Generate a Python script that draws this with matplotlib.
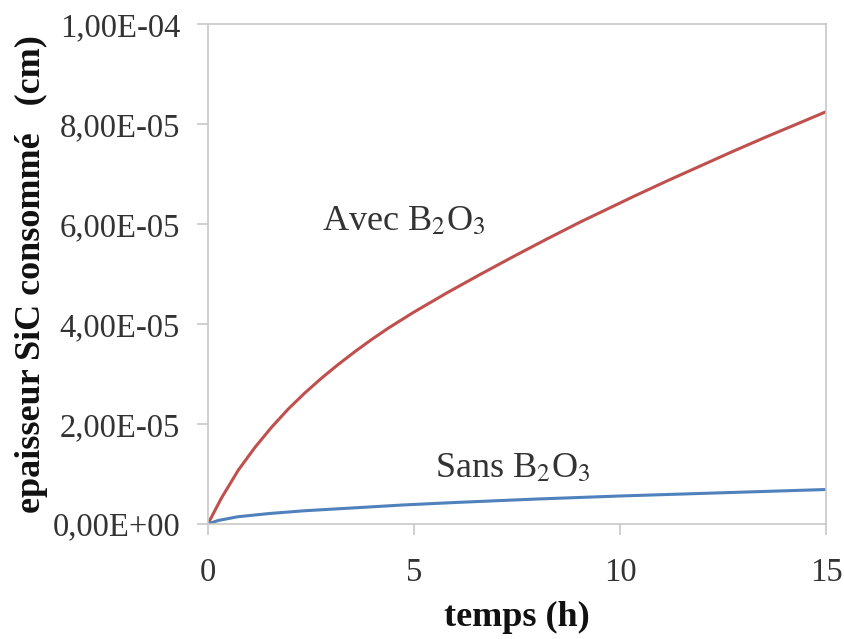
import matplotlib
matplotlib.use("Agg")
import matplotlib.pyplot as plt
from matplotlib.ticker import FuncFormatter

plt.rcParams["font.family"] = ["Liberation Serif", "DejaVu Serif"]
plt.rcParams["mathtext.fontset"] = "stix"

# temps (h) / epaisseur (cm)
t_avec = [0, 0.33, 0.74, 1.14, 1.55, 1.95, 2.35, 2.76, 3.16, 3.57, 3.97, 4.38,
          4.98, 5.79, 6.6, 7.41, 8.22, 9.03, 9.84, 10.32, 11.13, 11.94, 12.75,
          13.56, 14.37, 15]
e_avec = [0, 5.2e-6, 10.8e-6, 15.3e-6, 19.4e-6, 23.0e-6, 26.2e-6, 29.2e-6,
          31.9e-6, 34.5e-6, 36.9e-6, 39.2e-6, 42.3e-6, 46.2e-6, 49.9e-6,
          53.5e-6, 57.0e-6, 60.4e-6, 63.6e-6, 65.5e-6, 68.6e-6, 71.6e-6,
          74.6e-6, 77.5e-6, 80.3e-6, 82.5e-6]

t_sans = [0, 0.25, 0.73, 1.5, 2.35, 3.5, 4.73, 6, 8, 10, 12.5, 15]
e_sans = [0, 0.7e-6, 1.45e-6, 2.1e-6, 2.65e-6, 3.2e-6, 3.8e-6, 4.3e-6,
          5.0e-6, 5.6e-6, 6.25e-6, 6.9e-6]

xticks = [0, 5, 10, 15]
yticks = [0, 2e-5, 4e-5, 6e-5, 8e-5, 1e-4]

fig = plt.figure(figsize=(8.45, 6.39), dpi=100)
ax = fig.add_axes([0.246, 0.180, 0.7315, 0.782])

ax.plot(t_avec, e_avec, color="#C0504D", lw=2.2, solid_joinstyle="round")
ax.plot(t_sans, e_sans, color="#4F81BD", lw=2.2, solid_joinstyle="round")

ax.set_xlim(0, 15)
ax.set_ylim(0, 1e-4)
ax.set_xticks(xticks)
ax.set_yticks(yticks)
ax.yaxis.set_major_formatter(FuncFormatter(lambda v, p: f"{v:.2E}".replace(".", ",")))

for s in ax.spines.values():
    s.set_color("#C8C8C8")
    s.set_linewidth(1.2)
ax.tick_params(axis="both", direction="out", length=8, width=1.2, color="#C8C8C8",
               labelcolor="#333333", labelsize=23.5)
ax.tick_params(axis="x", pad=16)
ax.tick_params(axis="y", pad=12)

ax.text(2.77, 5.88e-5, r"Avec B$_2$O$_3$", fontsize=26, color="#333333",
        ha="left", va="baseline")
ax.text(5.51, 0.94e-5, r"Sans B$_2$O$_3$", fontsize=26, color="#333333",
        ha="left", va="baseline")

ax.set_xlabel("temps (h)", fontsize=26, fontweight="bold", color="#111111", va="center")
ax.xaxis.set_label_coords(0.5, -0.188)
ax.set_ylabel("epaisseur SiC consommé   (cm)", fontsize=26, fontweight="bold",
              color="#111111", va="center")
ax.yaxis.set_label_coords(-0.285, 0.5)

fig.savefig("out.png", dpi=100)
